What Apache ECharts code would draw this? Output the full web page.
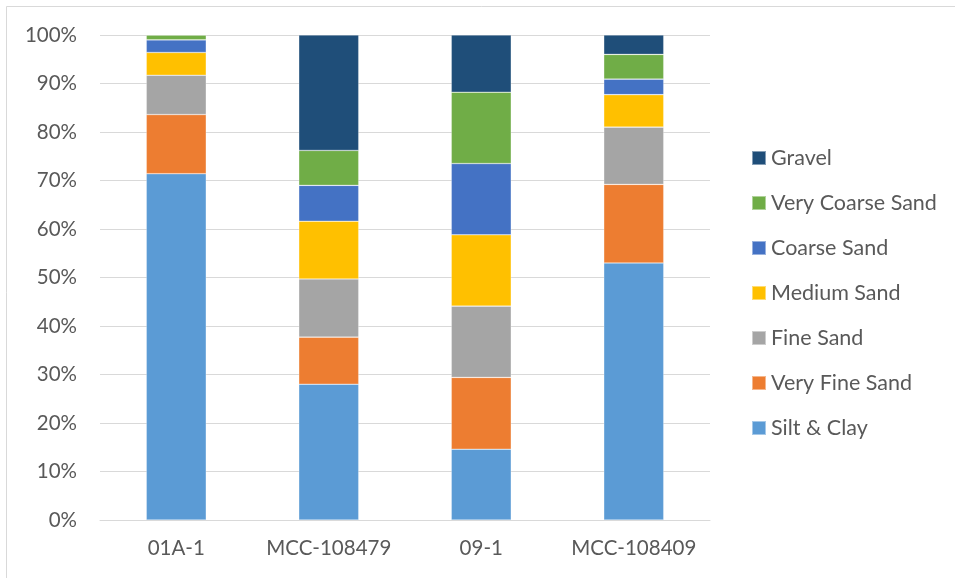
<!DOCTYPE html>
<html>
<head>
<meta charset="utf-8">
<script src="https://cdn.jsdelivr.net/npm/echarts@6/dist/echarts.min.js"></script>
<style>
  html, body { margin: 0; padding: 0; background: #fff; }
  #chart { width: 955px; height: 578px; }
</style>
</head>
<body>
<div id="chart"></div>
<script>
// Sample names along the x axis
const samples = ['01A-1', 'MCC-108479', '09-1', 'MCC-108409'];

// Grain-size fractions per sample, in percent (bottom of the stack first)
const siltClay        = [71.4, 28.0, 14.6, 53.0];
const veryFineSand    = [12.2,  9.7, 14.8, 16.2];
const fineSand        = [ 8.1, 12.0, 14.7, 11.8];
const mediumSand      = [ 4.7, 11.9, 14.7,  6.7];
const coarseSand      = [ 2.6,  7.4, 14.7,  3.2];
const veryCoarseSand  = [ 1.0,  7.2, 14.7,  5.1];
const gravel          = [ 0.0, 23.8, 11.8,  4.0];

// Y axis ticks
const yMin = 0, yMax = 100, yStep = 10;

const seriesDefs = [
  { name: 'Silt & Clay',       data: siltClay,       color: '#5B9BD5' },
  { name: 'Very Fine Sand',    data: veryFineSand,   color: '#ED7D31' },
  { name: 'Fine Sand',         data: fineSand,       color: '#A5A5A5' },
  { name: 'Medium Sand',       data: mediumSand,     color: '#FFC000' },
  { name: 'Coarse Sand',       data: coarseSand,     color: '#4472C4' },
  { name: 'Very Coarse Sand',  data: veryCoarseSand, color: '#70AD47' },
  { name: 'Gravel',            data: gravel,         color: '#1F4E79' }
];

const font = 'Lato, "Open Sans", sans-serif';
const textColor = '#595959';

const chart = echarts.init(document.getElementById('chart'), null, { renderer: 'canvas' });

chart.setOption({
  animation: false,
  backgroundColor: '#ffffff',
  graphic: [{
    type: 'rect',
    shape: { x: 6.5, y: 6.5, width: 1000, height: 1000 },
    style: { fill: 'none', stroke: '#d9d9d9', lineWidth: 1 },
    silent: true,
    z: -10
  }],
  grid: { left: 100, right: 245, top: 35, bottom: 58, containLabel: false },
  legend: {
    orient: 'vertical',
    left: 751,
    top: 147,
    padding: 0,
    itemWidth: 14,
    itemHeight: 14,
    itemGap: 23,
    icon: 'rect',
    data: seriesDefs.map(s => s.name).reverse(),
    textStyle: { fontFamily: font, fontSize: 21.5, lineHeight: 22, color: textColor }
  },
  xAxis: {
    type: 'category',
    data: samples,
    axisLine: { show: true, lineStyle: { color: '#d9d9d9', width: 1 } },
    axisTick: { show: false },
    axisLabel: { interval: 0, hideOverlap: false, fontFamily: font, fontSize: 20.5, color: textColor, margin: 18 }
  },
  yAxis: {
    type: 'value',
    min: yMin,
    max: yMax,
    interval: yStep,
    axisLine: { show: false },
    axisTick: { show: false },
    splitLine: { lineStyle: { color: '#d9d9d9', width: 1 } },
    axisLabel: { fontFamily: font, fontSize: 20.5, color: textColor, margin: 23, formatter: '{value}%' }
  },
  series: seriesDefs.map(s => ({
    name: s.name,
    type: 'bar',
    stack: 'total',
    barWidth: 60,
    data: s.data,
    itemStyle: { color: s.color, borderColor: 'rgba(255,255,255,0.45)', borderWidth: 0.6 }
  }))
});
</script>
</body>
</html>
